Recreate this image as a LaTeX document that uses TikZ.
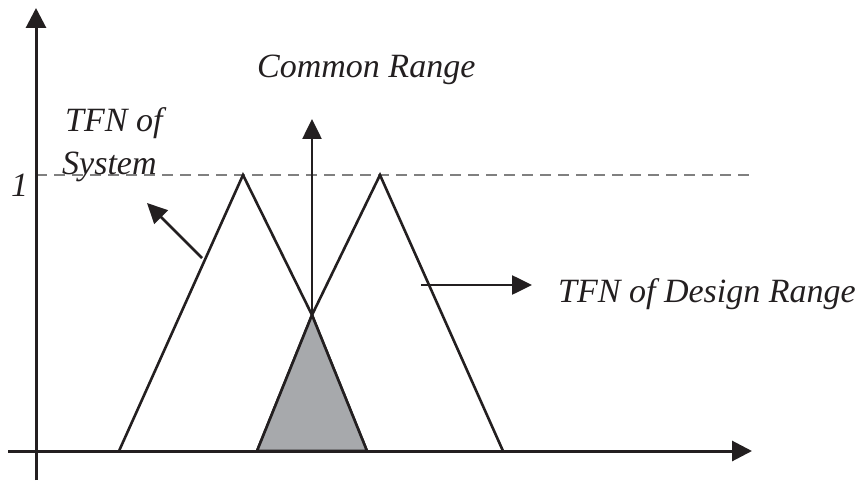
\documentclass[tikz,border=0pt]{standalone}
\usepackage{fontspec}
\setmainfont{Liberation Serif}
\usetikzlibrary{arrows.meta}
\definecolor{ink}{RGB}{35,31,32}
\definecolor{fillgray}{RGB}{167,169,172}
\definecolor{dashgray}{RGB}{128,128,128}
\begin{document}
\begin{tikzpicture}[x=1pt,y=-1pt,
  axis/.style={draw=ink, line width=3pt, -{Triangle[length=20pt,width=20pt]}},
  edge/.style={draw=ink, line width=2.6pt, line join=miter},
  pointer/.style={draw=ink, line width=2.6pt, -{Triangle[length=20pt,width=19pt]}},
  guide/.style={draw=dashgray, line width=2.5pt, dash pattern=on 11pt off 7pt},
  lab/.style={font=\fontsize{34}{38}\selectfont\itshape, text=ink, inner sep=0pt, anchor=base west}]
\useasboundingbox (0,0) rectangle (861,481);
% coordinates
\coordinate (yb) at (36,480);
\coordinate (yt) at (36,8);
\coordinate (xl) at (8,451);
\coordinate (xr) at (752,451);
\coordinate (dl) at (36,175);
\coordinate (dr) at (753,175);
\coordinate (L1) at (119,451);
\coordinate (LA) at (243,175);
\coordinate (C)  at (312,315);
\coordinate (L2) at (367,451);
\coordinate (R1) at (257,451);
\coordinate (RA) at (380,175);
\coordinate (R2) at (503,451);
\coordinate (vt) at (312,119);
\coordinate (p1s) at (202,258);
\coordinate (p1e) at (147,203);
\coordinate (p2s) at (421,285);
\coordinate (p2e) at (532,285);
% dashed level line
\draw[guide] (dl) -- (dr);
% triangles
\draw[edge] (L1) -- (LA) -- (C) -- (L2);
\draw[edge] (R1) -- (C) -- (RA) -- (R2);
\draw[edge, fill=fillgray] (R1) -- (C) -- (L2) -- cycle;
% axes
\draw[axis] (yb) -- (yt);
\draw[axis] (xl) -- (xr);
% arrows
\draw[pointer] (C) -- (vt);
\draw[pointer] (p1s) -- (p1e);
\draw[pointer] (p2s) -- (p2e);
% labels
\node[lab] (common) at (257,78) {Common Range};
\node[lab] (tfn1) at (65,132) {TFN of};
\node[lab] (sys) at (62,175) {System};
\node[lab] (design) at (558,302) {TFN of Design Range};
\node[lab] (one) at (11,196) {1};
\end{tikzpicture}
\end{document}
